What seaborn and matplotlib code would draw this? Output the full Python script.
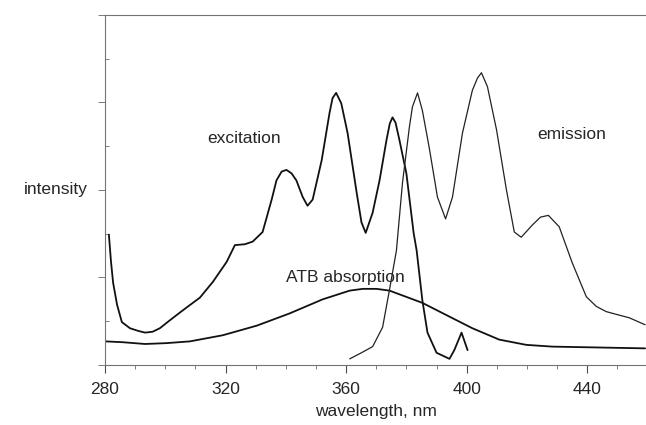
import numpy as np
import pandas as pd
import matplotlib
matplotlib.use('Agg')
import matplotlib.pyplot as plt
import seaborn as sns
from matplotlib.ticker import MultipleLocator, NullFormatter

sns.set_style('ticks')
plt.rcParams['font.family'] = ['Liberation Sans', 'DejaVu Sans']

# excitation spectrum (wavelength nm, relative intensity)
exc_wl = [281.3, 282.0, 282.7, 284.0, 285.6, 288.3, 291.0, 293.3, 295.8, 298.2,
          301.5, 304.5, 307.2, 311.5, 315.8, 320.4, 323.1, 326.4, 329.0, 332.3,
          335.3, 336.9, 338.6, 340.2, 341.9, 343.5, 345.6, 347.2, 348.9, 351.9,
          354.5, 355.5, 356.7, 358.4, 360.5, 363.5, 365.1, 366.5, 368.8, 371.1,
          373.4, 374.5, 375.4, 376.4, 377.7, 380.0, 382.4, 383.4, 385.3, 387.0,
          390.0, 394.3, 395.9, 398.3, 400.3]
exc_int = [1.49, 1.18, 0.94, 0.69, 0.49, 0.42, 0.39, 0.37, 0.38, 0.42,
           0.51, 0.59, 0.66, 0.77, 0.95, 1.18, 1.37, 1.38, 1.41, 1.52,
           1.89, 2.11, 2.21, 2.23, 2.19, 2.11, 1.92, 1.82, 1.89, 2.34,
           2.88, 3.05, 3.11, 2.99, 2.65, 1.97, 1.63, 1.51, 1.74, 2.11,
           2.57, 2.76, 2.83, 2.77, 2.57, 2.19, 1.51, 1.31, 0.74, 0.37,
           0.14, 0.07, 0.17, 0.37, 0.17]

# emission spectrum
emi_wl = [361.2, 365.1, 368.8, 372.1, 374.4, 376.7, 378.7, 381.0, 382.0, 383.7,
          385.3, 387.7, 390.3, 393.0, 395.3, 398.6, 401.9, 403.6, 404.9, 406.9,
          409.9, 413.2, 415.8, 418.1, 421.8, 424.5, 427.1, 430.7, 435.0, 439.7,
          443.0, 446.3, 450.6, 453.9, 459.2]
emi_int = [0.07, 0.14, 0.21, 0.43, 0.86, 1.31, 2.08, 2.72, 2.95, 3.11,
           2.91, 2.46, 1.92, 1.67, 1.92, 2.65, 3.14, 3.28, 3.34, 3.18,
           2.69, 2.00, 1.52, 1.46, 1.60, 1.69, 1.71, 1.58, 1.17, 0.78,
           0.67, 0.61, 0.57, 0.54, 0.46]

# ATB absorption
abs_wl = [280.0, 286.0, 293.3, 300.5, 308.2, 319.1, 330.4, 341.3, 352.2, 361.2,
          365.5, 370.1, 374.4, 385.3, 393.3, 401.9, 410.8, 419.8, 428.4, 459.2]
abs_int = [0.27, 0.26, 0.24, 0.25, 0.27, 0.34, 0.45, 0.59, 0.75, 0.85,
           0.87, 0.87, 0.85, 0.71, 0.57, 0.42, 0.29, 0.23, 0.21, 0.19]

x_ticks = [280, 320, 360, 400, 440]

fig = plt.figure(figsize=(6.46, 4.25), dpi=100)
ax = fig.add_axes([0.1625, 0.1412, 0.8375, 0.8235])

sns.lineplot(x=exc_wl, y=exc_int, ax=ax, color='#111111', linewidth=1.3, estimator=None)
sns.lineplot(x=abs_wl, y=abs_int, ax=ax, color='#111111', linewidth=1.3, estimator=None)
sns.lineplot(x=emi_wl, y=emi_int, ax=ax, color='#222222', linewidth=0.9, estimator=None)

ax.set_xlim(280, 459.5)
ax.set_ylim(0, 4)
ax.set_xticks(x_ticks)
ax.set_xticklabels([str(t) for t in x_ticks], fontsize=12.5)
ax.xaxis.set_minor_locator(MultipleLocator(10))
ax.yaxis.set_major_locator(MultipleLocator(1))
ax.yaxis.set_minor_locator(MultipleLocator(0.5))
ax.yaxis.set_major_formatter(NullFormatter())
ax.tick_params(axis='x', which='major', direction='out', length=6, width=0.8, color='0.3', pad=6)
ax.tick_params(axis='x', which='minor', direction='out', length=3, width=0.6, color='0.4')
ax.tick_params(axis='y', which='major', direction='out', length=5, width=0.6, color='0.4')
ax.tick_params(axis='y', which='minor', direction='in', length=3, width=0.6, color='0.4')

for side in ['left', 'bottom', 'top']:
    ax.spines[side].set_visible(True)
    ax.spines[side].set_color('0.45')
    ax.spines[side].set_linewidth(0.8)
ax.spines['right'].set_visible(False)

ax.set_xlabel('wavelength, nm', fontsize=12.5, labelpad=5)
ax.set_ylabel('intensity', fontsize=12.5, rotation=0, ha='left', va='center')
ax.yaxis.set_label_coords(-0.15, 0.50)

ax.text(326, 2.59, 'excitation', fontsize=12.5, ha='center', va='center')
ax.text(435, 2.63, 'emission', fontsize=12.5, ha='center', va='center')
ax.text(359.6, 1.0, 'ATB absorption', fontsize=12.5, ha='center', va='center')

fig.savefig('out.png', dpi=100, facecolor='white')
